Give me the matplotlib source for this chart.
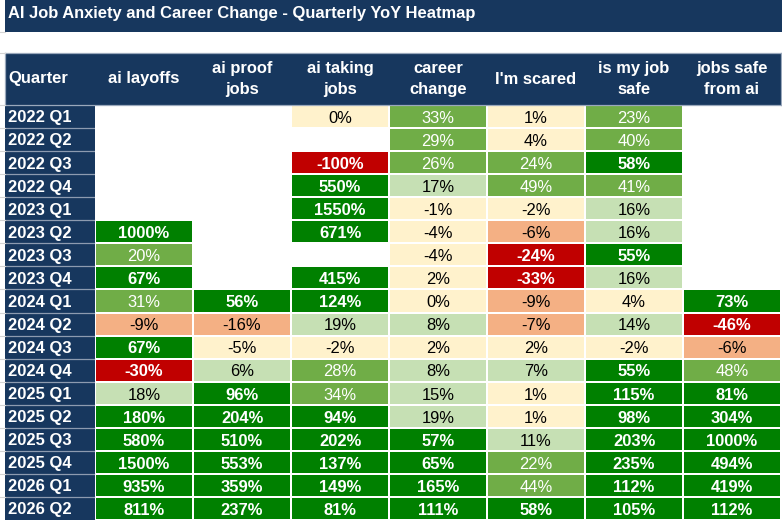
import matplotlib
matplotlib.use("Agg")
import matplotlib.pyplot as plt
import matplotlib.transforms as mtransforms
from matplotlib.colors import ListedColormap, BoundaryNorm
from matplotlib.lines import Line2D
import numpy as np

# data
quarters = ["2022 Q1", "2022 Q2", "2022 Q3", "2022 Q4",
            "2023 Q1", "2023 Q2", "2023 Q3", "2023 Q4",
            "2024 Q1", "2024 Q2", "2024 Q3", "2024 Q4",
            "2025 Q1", "2025 Q2", "2025 Q3", "2025 Q4",
            "2026 Q1", "2026 Q2"]
columns = ["ai layoffs", "ai proof\njobs", "ai taking\njobs", "career\nchange",
           "I'm scared", "is my job\nsafe", "jobs safe\nfrom ai"]
nan = np.nan
ai_layoffs = [nan, nan, nan, nan, nan, 1000, 20, 67, 31, -9, 67, -30, 18, 180, 580, 1500, 935, 811]
ai_proof_jobs = [nan, nan, nan, nan, nan, nan, nan, nan, 56, -16, -5, 6, 96, 204, 510, 553, 359, 237]
ai_taking_jobs = [0, nan, -100, 550, 1550, 671, nan, 415, 124, 19, -2, 28, 34, 94, 202, 137, 149, 81]
career_change = [33, 29, 26, 17, -1, -4, -4, 2, 0, 8, 2, 8, 15, 19, 57, 65, 165, 111]
im_scared = [1, 4, 24, 49, -2, -6, -24, -33, -9, -7, 2, 7, 1, 1, 11, 22, 44, 58]
is_my_job_safe = [23, 40, 58, 41, 16, 16, 55, 16, 4, 14, -2, 55, 115, 98, 203, 235, 112, 105]
jobs_safe_from_ai = [nan, nan, nan, nan, nan, nan, nan, nan, 73, -46, -6, 48, 81, 304, 1000, 494, 419, 112]

title = "AI Job Anxiety and Career Change - Quarterly YoY Heatmap"

vals = np.array([ai_layoffs, ai_proof_jobs, ai_taking_jobs, career_change,
                 im_scared, is_my_job_safe, jobs_safe_from_ai], dtype=float).T

navy = "#17375E"
bins = [-1e9, -20, -5, 5, 20, 50, 1e9]
fills = ["#C00000", "#F4B084", "#FFF2CC", "#C6E0B4", "#70AD47", "#008000"]
cmap = ListedColormap(fills)
norm = BoundaryNorm(bins, cmap.N)

plt.rcParams["font.family"] = ["Liberation Sans", "DejaVu Sans"]
FS = 11.9

W, H = 782, 520
fig = plt.figure(figsize=(W / 100, H / 100), dpi=100)


def box(x0, y0, x1, y1):
    a = fig.add_axes([x0 / W, 1 - y1 / H, (x1 - x0) / W, (y1 - y0) / H])
    a.set_xticks([])
    a.set_yticks([])
    return a


# title bar
tax = box(5, 0, 782, 32)
tax.set_facecolor(navy)
for s in tax.spines.values():
    s.set_visible(False)
tax.text(3 / 777, 0.58, title, color="white", fontsize=FS, fontweight="bold",
         va="center", ha="left", transform=tax.transAxes)

# heatmap cells
ax = box(95, 105, 781, 520)
ax.pcolormesh(np.arange(len(columns) + 1), np.arange(len(quarters) + 1),
              np.ma.masked_invalid(vals), cmap=cmap, norm=norm,
              edgecolors="white", linewidth=1.2)
ax.set_xlim(0, len(columns))
ax.set_ylim(len(quarters), 0)
for s in ax.spines.values():
    s.set_visible(False)

for i in range(len(quarters)):
    for j in range(len(columns)):
        v = vals[i, j]
        if np.isnan(v):
            continue
        if v >= 50 or v < -20:
            c, w = "white", "bold"
        elif v >= 20:
            c, w = "white", "normal"
        else:
            c, w = "black", "normal"
        ax.text(j + 0.5, i + 0.58, f"{v:.0f}%", ha="center", va="center",
                color=c, fontweight=w, fontsize=FS)

# quarter column
qax = box(5, 105, 95, 520)
qax.set_facecolor(navy)
qax.set_xlim(0, 1)
qax.set_ylim(len(quarters), 0)
for s in qax.spines.values():
    s.set_visible(False)
for k in range(1, len(quarters)):
    qax.axhline(k, color="#8D9BB0", lw=0.9)
for i, q in enumerate(quarters):
    qax.text(0.03, i + 0.56, q, ha="left", va="center", color="white",
             fontweight="bold", fontsize=FS)

# header row
hax = box(5, 53, 781, 105)
hax.set_facecolor(navy)
for s in hax.spines.values():
    s.set_color("#9AA8BC")
    s.set_linewidth(0.9)
hax.text(3 / 776, 0.5, "Quarter", ha="left", va="center", color="white",
         fontweight="bold", fontsize=FS, transform=hax.transAxes)
tr = mtransforms.blended_transform_factory(ax.transData, hax.transAxes)
for j, name in enumerate(columns):
    hax.text(j + 0.5, 0.5, name, ha="center", va="center", color="white",
             fontweight="bold", fontsize=FS, transform=tr, linespacing=1.55)

# faint sheet gridlines in the left margin
for yy in [32, 53, 105] + [105 + (k + 1) * 415 / 18 for k in range(17)]:
    fig.add_artist(Line2D([0, 5 / W], [1 - yy / H] * 2, color="#D4D4D4", lw=0.8))

fig.savefig("out.png", dpi=100)
